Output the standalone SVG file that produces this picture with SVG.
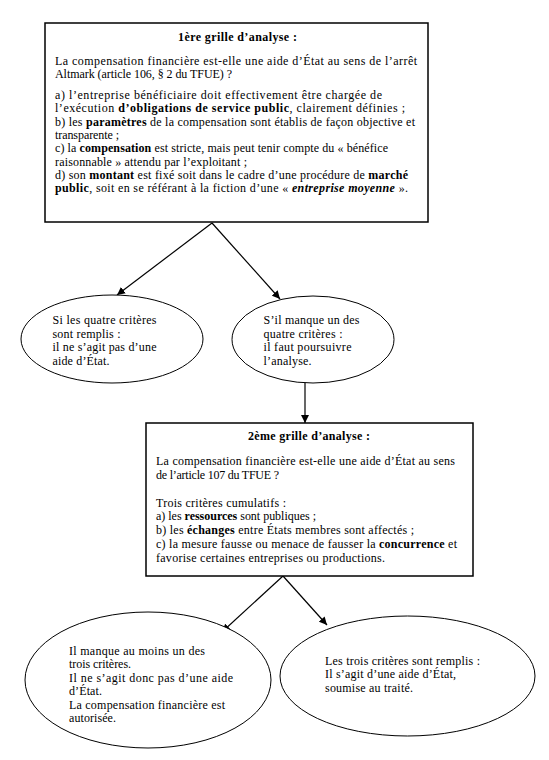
<svg xmlns="http://www.w3.org/2000/svg" width="549" height="760" viewBox="0 0 549 760">
<style>
text{font-family:"Liberation Serif","Times New Roman",serif;font-size:12px;fill:#000}
.b{font-weight:bold}
.box{fill:#fff;stroke:#000;stroke-width:1.5}
.ell{fill:#fff;stroke:#000;stroke-width:1}
.con{stroke:#000;stroke-width:1.2;fill:none;marker-end:url(#ah)}
</style>
<defs>
<marker id="ah" viewBox="0 0 10 10" refX="10" refY="5" markerWidth="8" markerHeight="8" markerUnits="userSpaceOnUse" orient="auto">
<path d="M0,0 L10,5 L0,10 z" fill="#000"/>
</marker>
</defs>
<rect width="549" height="760" fill="#fff"/>
<g id="connectors">
<line class="con" x1="212" y1="223" x2="117" y2="295"/>
<line class="con" x1="212" y1="223" x2="280" y2="299"/>
<line class="con" x1="305" y1="383" x2="305" y2="423"/>
<line class="con" x1="283" y1="576" x2="222" y2="632"/>
<line class="con" x1="283" y1="576" x2="327" y2="625"/>
</g>
<g id="grille1">
<rect class="box" x="45" y="23" width="383" height="199"/>
<text class="b" x="237.5" y="41" text-anchor="middle" textLength="119" lengthAdjust="spacing">1ère grille d’analyse :</text>
<text x="55" y="65" textLength="362" lengthAdjust="spacing">La compensation financière est-elle une aide d’État au sens de l’arrêt</text>
<text x="55" y="78" textLength="177" lengthAdjust="spacing">Altmark (article 106, § 2 du TFUE) ?</text>
<text x="55" y="99" textLength="327" lengthAdjust="spacing">a) l’entreprise bénéficiaire doit effectivement être chargée de</text>
<text x="55" y="112" textLength="350" lengthAdjust="spacing">l’exécution <tspan class="b">d’obligations de service public</tspan>, clairement définies ;</text>
<text x="55" y="125.5" textLength="360" lengthAdjust="spacing">b) les <tspan class="b">paramètres</tspan> de la compensation sont établis de façon objective et</text>
<text x="55" y="139" textLength="64" lengthAdjust="spacing">transparente ;</text>
<text x="55" y="152" textLength="333" lengthAdjust="spacing">c) la <tspan class="b">compensation</tspan> est stricte, mais peut tenir compte du « bénéfice</text>
<text x="55" y="165.5" textLength="192" lengthAdjust="spacing">raisonnable » attendu par l’exploitant ;</text>
<text x="55" y="179" textLength="353" lengthAdjust="spacing">d) son <tspan class="b">montant</tspan> est fixé soit dans le cadre d’une procédure de <tspan class="b">marché</tspan></text>
<text x="55" y="192" textLength="353" lengthAdjust="spacing"><tspan class="b">public</tspan>, soit en se référant à la fiction d’une « <tspan class="b" font-style="italic">entreprise moyenne</tspan> ».</text>
</g>
<g id="critere-rempli">
<ellipse class="ell" cx="112" cy="339" rx="91" ry="44"/>
<text x="52.5" y="324" textLength="104" lengthAdjust="spacing">Si les quatre critères</text>
<text x="52.5" y="337.5" textLength="68" lengthAdjust="spacing">sont remplis :</text>
<text x="52.5" y="351" textLength="104" lengthAdjust="spacing">il ne s’agit pas d’une</text>
<text x="52.5" y="364.5" textLength="57" lengthAdjust="spacing">aide d’État.</text>
</g>
<g id="critere-manque">
<ellipse class="ell" cx="313" cy="339.5" rx="81" ry="43.5"/>
<text x="263.5" y="324" textLength="96" lengthAdjust="spacing">S’il manque un des</text>
<text x="263.5" y="337.5" textLength="79" lengthAdjust="spacing">quatre critères :</text>
<text x="263.5" y="351" textLength="88" lengthAdjust="spacing">il faut poursuivre</text>
<text x="263.5" y="364.5" textLength="48" lengthAdjust="spacing">l’analyse.</text>
</g>
<g id="grille2">
<rect class="box" x="146" y="423" width="327" height="153"/>
<text class="b" x="309" y="440" text-anchor="middle" textLength="122" lengthAdjust="spacing">2ème grille d’analyse :</text>
<text x="156" y="465" textLength="299" lengthAdjust="spacing">La compensation financière est-elle une aide d’État au sens</text>
<text x="156" y="479" textLength="123" lengthAdjust="spacing">de l’article 107 du TFUE ?</text>
<text x="156" y="507" textLength="130" lengthAdjust="spacing">Trois critères cumulatifs :</text>
<text x="156" y="520" textLength="160" lengthAdjust="spacing">a) les <tspan class="b">ressources</tspan> sont publiques ;</text>
<text x="156" y="534" textLength="258" lengthAdjust="spacing">b) les <tspan class="b">échanges</tspan> entre États membres sont affectés ;</text>
<text x="156" y="548" textLength="301" lengthAdjust="spacing">c) la mesure fausse ou menace de fausser la <tspan class="b">concurrence</tspan> et</text>
<text x="156" y="562" textLength="229" lengthAdjust="spacing">favorise certaines entreprises ou productions.</text>
</g>
<g id="non-aide">
<ellipse class="ell" cx="148" cy="680" rx="123" ry="68"/>
<text x="69" y="655" textLength="136" lengthAdjust="spacing">Il manque au moins un des</text>
<text x="69" y="668" textLength="62" lengthAdjust="spacing">trois critères.</text>
<text x="69" y="682" textLength="164" lengthAdjust="spacing">Il ne s’agit donc pas d’une aide</text>
<text x="69" y="695" textLength="33" lengthAdjust="spacing">d’État.</text>
<text x="69" y="709" textLength="156" lengthAdjust="spacing">La compensation financière est</text>
<text x="69" y="722" textLength="47" lengthAdjust="spacing">autorisée.</text>
</g>
<g id="aide">
<ellipse class="ell" cx="407.5" cy="676" rx="127.5" ry="60"/>
<text x="325" y="665" textLength="155" lengthAdjust="spacing">Les trois critères sont remplis :</text>
<text x="325" y="678" textLength="131" lengthAdjust="spacing">Il s’agit d’une aide d’État,</text>
<text x="325" y="692" textLength="88" lengthAdjust="spacing">soumise au traité.</text>
</g>
</svg>
